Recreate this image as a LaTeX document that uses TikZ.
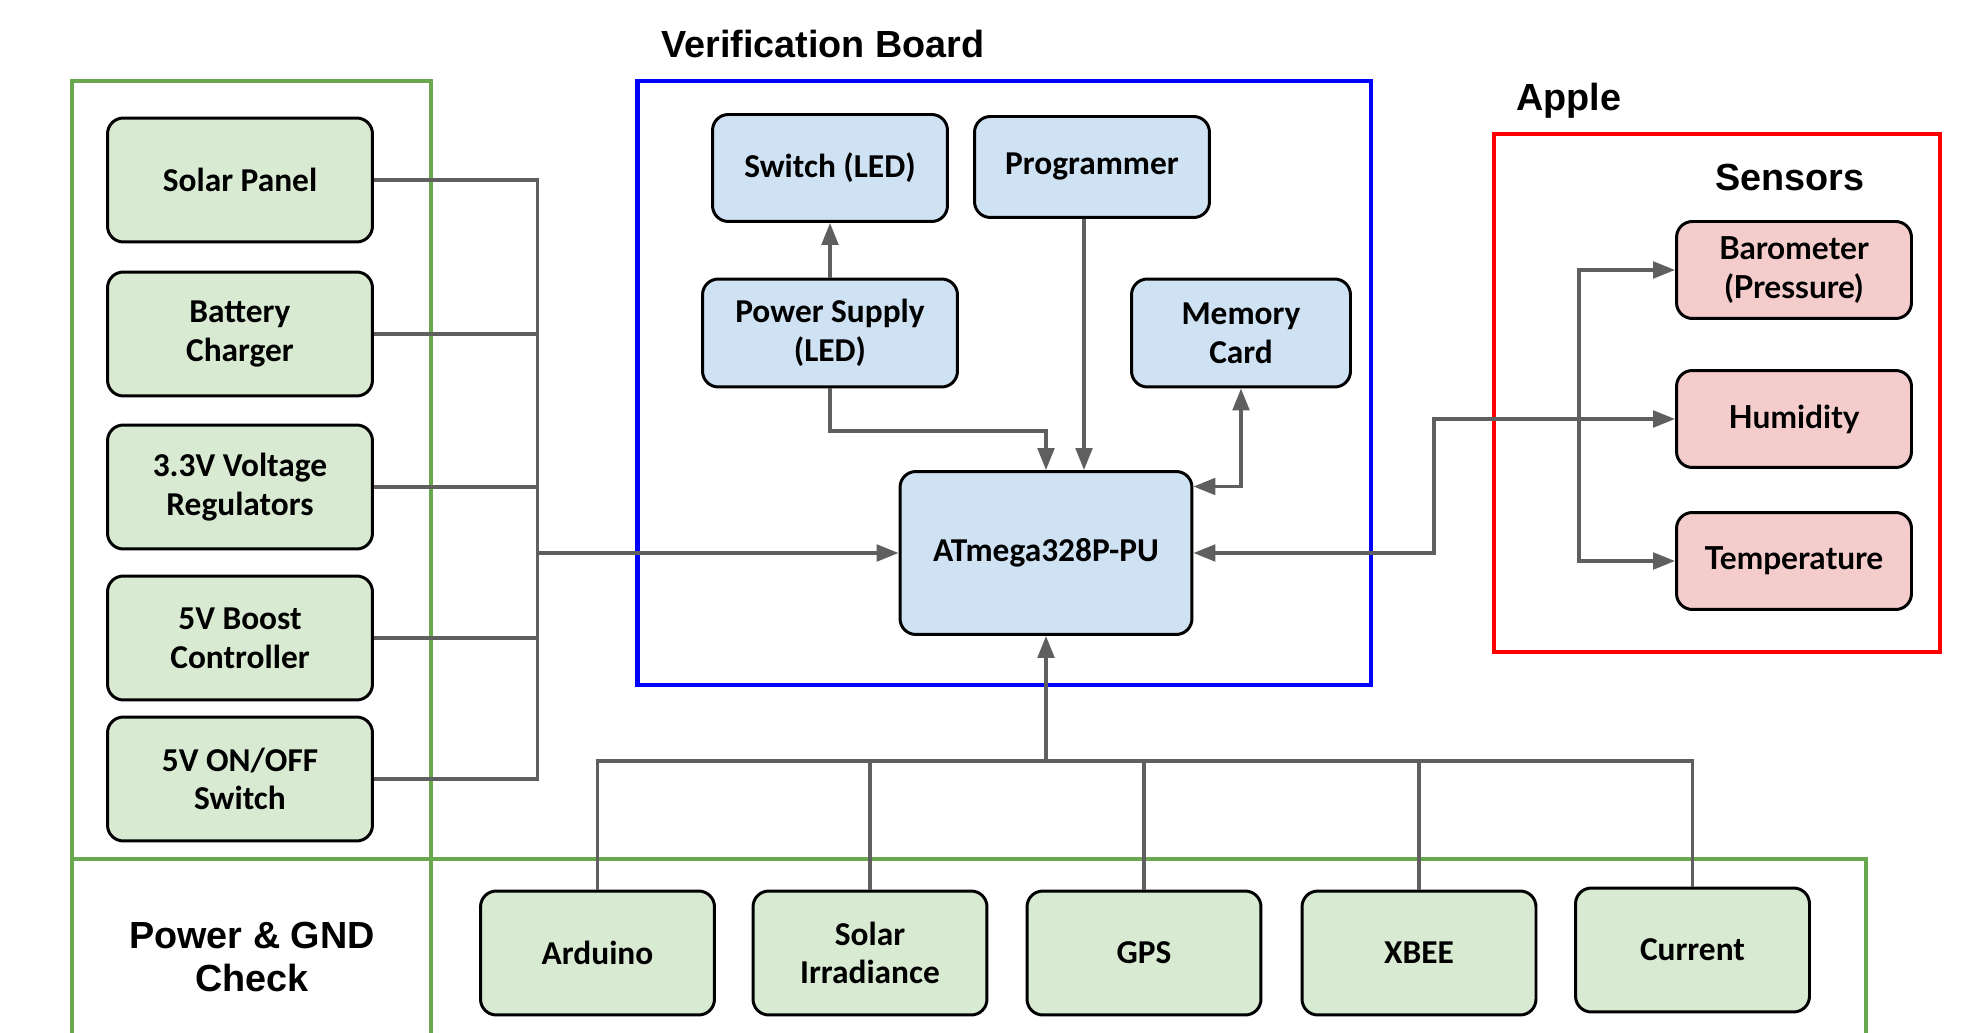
\documentclass[tikz,border=0pt]{standalone}
\usepackage{fontspec}
\setmainfont{Carlito}
\newfontfamily\headfont{Liberation Sans}
\newfontfamily\sensfont{Lato}
\usetikzlibrary{arrows.meta,positioning}
\definecolor{framegreen}{RGB}{106,168,79}
\definecolor{nodegreen}{RGB}{217,234,211}
\definecolor{nodeblue}{RGB}{207,226,243}
\definecolor{nodered}{RGB}{244,204,204}
\definecolor{wiregray}{RGB}{95,95,95}

\begin{document}
\begin{tikzpicture}[x=0.02cm,y=-0.02cm,
  box/.style={draw=black,line width=1.7pt,rounded corners=9pt,inner sep=0pt,
              font=\bfseries\fontsize{19}{22}\selectfont,align=center},
  pwr/.style={box,fill=nodegreen,minimum width=5.3cm,minimum height=2.48cm},
  chk/.style={box,fill=nodegreen,minimum width=4.68cm,minimum height=2.48cm},
  brd/.style={box,fill=nodeblue},
  sens/.style={box,fill=nodered,minimum width=4.7cm,minimum height=1.94cm,
               font=\sensfont\bfseries\fontsize{18}{22}\selectfont},
  frame/.style={line width=2.6pt},
  title/.style={font=\headfont\bfseries\fontsize{21.5}{25}\selectfont},
  wire/.style={draw=wiregray,line width=1.8pt},
  arrow/.style={wire,-{Triangle[length=12.5pt,width=9.5pt]}},
  biarrow/.style={wire,{Triangle[length=12.5pt,width=9.5pt]}-{Triangle[length=12.5pt,width=9.5pt]}},
]
\clip (0,0) rectangle (1961,1033);

% Frames
\draw[frame,draw=framegreen] (72,81) rectangle (431,1045);
\draw[frame,draw=framegreen] (72,859) -- (1866,859) -- (1866,1045);
\draw[frame,draw=blue] (637.5,81) rectangle (1371,685);
\draw[frame,draw=red] (1494,134) rectangle (1940,652);

% Titles
\node[title,anchor=west] (vbtitle) at (655,44) {Verification Board};
\node[title,anchor=west] (appletitle) at (1510,101) {Apple};
\node[title] (senstitle) at (1790,178) {Sensors};
\node[title,align=center,font=\headfont\bfseries\fontsize{21.5}{25}\selectfont]
  (pgtitle) at (252,957) {Power \& GND\\Check};

% Power side
\node[pwr] (solar) at (240,180) {Solar Panel};
\node[pwr] (batt)  at (240,334) {Battery\\Charger};
\node[pwr] (reg)   at (240,487) {3.3V Voltage\\Regulators};
\node[pwr] (boost) at (240,638) {5V Boost\\Controller};
\node[pwr] (onoff) at (240,779) {5V ON/OFF\\Switch};

% Verification board
\node[brd,minimum width=4.7cm,minimum height=2.14cm]  (sw)   at (830,168)  {Switch (LED)};
\node[brd,minimum width=4.7cm,minimum height=2.02cm]  (prog) at (1092,167) {Programmer};
\node[brd,minimum width=5.1cm,minimum height=2.16cm]  (psu)  at (830,333)  {Power Supply\\(LED)};
\node[brd,minimum width=4.38cm,minimum height=2.16cm] (mem)  at (1241,333) {Memory\\Card};
\node[brd,minimum width=5.84cm,minimum height=3.26cm] (mcu)  at (1046,553) {ATmega328P-PU};

% Sensors
\node[sens] (baro) at (1794,270) {Barometer\\(Pressure)};
\node[sens] (hum)  at (1794,419) {Humidity};
\node[sens] (temp) at (1794,561) {Temperature};

% Checks
\node[chk] (ard)  at (597.5,953) {Arduino};
\node[chk] (irr)  at (870,953)   {Solar\\Irradiance};
\node[chk] (gps)  at (1144,953)  {GPS};
\node[chk] (xbee) at (1419,953)  {XBEE};
\node[chk] (cur)  at (1692.5,950) {Current};

\coordinate (bus)  at (537.5,553);
\coordinate (rjog) at (1434,553);
\coordinate (sbus) at (1579,419);
\coordinate (bbus) at (1046,761);

% Power bus
\draw[wire] (solar.east) -| (bus);
\draw[wire] (onoff.east) -| (bus);
\foreach \n in {batt,reg,boost}
  \draw[wire] (\n.east) -- (\n.east -| bus);
\draw[arrow] (bus) -- (mcu.west);

% Board links
\draw[arrow] (psu.north) -- (sw.south);
\draw[arrow] (psu.south) -- ++(0,42.5) -| (mcu.north);
\draw[arrow] ([xshift=-0.16cm]prog.south) -- ([xshift=-0.16cm]prog.south |- mcu.north);
\draw[biarrow] (mem.south) |- ([yshift=1.33cm]mcu.east);

% Sensor links
\draw[biarrow] (mcu.east) -- (rjog) |- (hum.west);
\draw[arrow] (sbus) |- (baro.west);
\draw[arrow] (sbus) |- (temp.west);

% Check bus
\draw[wire] (ard.north) |- (cur.north |- bbus) -- (cur.north);
\foreach \n in {irr,gps,xbee}
  \draw[wire] (\n.north) -- (\n.north |- bbus);
\draw[arrow] (bbus) -- (mcu.south);
\end{tikzpicture}
\end{document}
